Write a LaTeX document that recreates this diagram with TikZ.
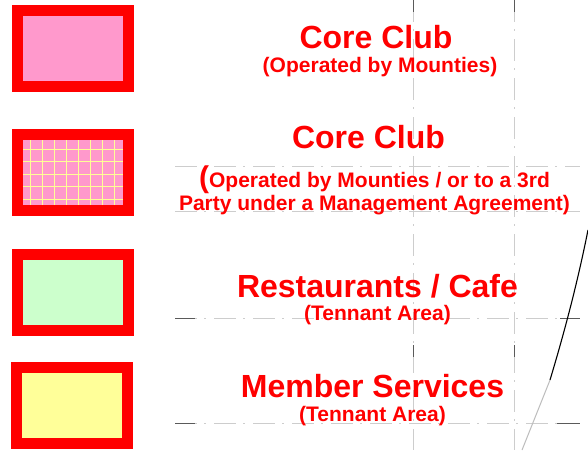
\documentclass[tikz,border=0pt]{standalone}
\usepackage{fontspec}
\setmainfont{Liberation Sans}
\definecolor{pinkfill}{RGB}{255,153,204}
\definecolor{greenfill}{RGB}{204,255,204}
\definecolor{yellowfill}{RGB}{255,255,153}
\definecolor{gridyellow}{RGB}{255,255,150}
\definecolor{guidegray}{RGB}{205,205,205}
\definecolor{darkgray}{RGB}{90,90,90}
\tikzset{
  swatch/.style={draw=red, line width=11pt, inner sep=0pt, minimum width=111pt, minimum height=75.5pt},
  title/.style={text=red, anchor=base, inner sep=0pt, font=\bfseries\fontsize{32}{36}\selectfont},
  sub/.style={text=red, anchor=base, inner sep=0pt, font=\bfseries\fontsize{21}{24}\selectfont},
  guide/.style={draw=guidegray, line width=1pt, dash pattern=on 22pt off 7pt on 2pt off 8pt},
  guidemark/.style={draw=darkgray, line width=1pt},
}
\begin{document}
\begin{tikzpicture}[x=1pt,y=-1pt]
\useasboundingbox (0,0) rectangle (588,450);
% guide lines
\coordinate (v1t) at (413,0); \coordinate (v1b) at (413,450);
\coordinate (v2t) at (514,0); \coordinate (v2b) at (514,450);
\draw[guide] (v1t) -- (v1b);
\draw[guide] (v2t) -- (v2b);
\draw[guidemark] (413,0) -- (413,12);
\draw[guidemark] (514,0) -- (514,12);
\draw[guidemark] (413,345) -- (413,357);
\draw[guidemark] (514,345) -- (514,357);
\draw[guide] (175,166) -- (580,166);
\draw[guide] (175,211) -- (580,211);
\draw[guide] (175,318) -- (580,318);
\draw[guide] (175,423) -- (580,423);
\draw[guidemark] (175,318) -- (195,318);
\draw[guidemark] (560,318) -- (580,318);
\draw[guidemark] (175,423) -- (195,423);
\draw[guidemark] (557,423) -- (580,423);
% curve
\draw[black, line width=1.1pt] (588,230) .. controls (576,290) and (562,340) .. (550,380);
\draw[guidegray!80!gray, line width=1pt] (550,380) -- (522,450);
% swatches
\node[swatch, fill=pinkfill] (b1) at (73,48.25) {};
\node[swatch, fill=pinkfill] (b2) at (73,172.25) {};
\begin{scope}
\clip (23,140) rectangle (123,205);
\foreach \x in {30.7,42.7,54.7,66.7,78.7,90.7,102.7,114.7}
  \draw[gridyellow, line width=1.3pt] (\x,140) -- (\x,205);
\foreach \y in {149.3,161.8,174.3,186.8,199.3}
  \draw[gridyellow, line width=1.3pt] (23,\y) -- (123,\y);
\end{scope}
\node[swatch, fill=greenfill] (b3) at (73,292.5) {};
\node[swatch, fill=yellowfill] (b4) at (71.5,405.5) {};
% texts
\node[title] (t1) at (376,48) {Core Club};
\node[sub] (s1) at (380,72) {(Operated by Mounties)};
\node[title] (t2) at (368.5,148) {Core Club};
\node[sub] (s2a) at (374.5,187) {{\fontsize{30}{30}\selectfont(}Operated by Mounties / or to a 3rd};
\node[sub] (s2b) at (374.5,210) {Party under a Management Agreement)};
\node[title] (t3) at (377.5,297) {Restaurants / Cafe};
\node[sub] (s3) at (377.5,320) {(Tennant Area)};
\node[title] (t4) at (372.5,397) {Member Services};
\node[sub] (s4) at (372.5,421) {(Tennant Area)};
\end{tikzpicture}
\end{document}
